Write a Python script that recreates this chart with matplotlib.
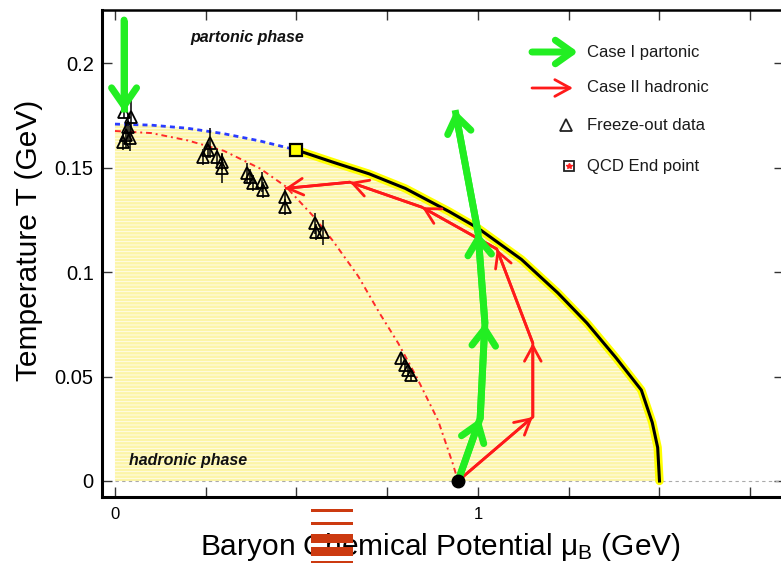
import matplotlib
matplotlib.use('Agg')
import matplotlib.pyplot as plt
from matplotlib.patches import Rectangle

plt.rcParams['font.family'] = ['Liberation Sans', 'DejaVu Sans']
plt.rcParams['mathtext.fontset'] = 'custom'
plt.rcParams['mathtext.rm'] = 'Liberation Sans'
plt.rcParams['mathtext.it'] = 'Liberation Sans:italic'
plt.rcParams['mathtext.bf'] = 'Liberation Sans:bold'
plt.rcParams['hatch.linewidth'] = 0.6

# ---------------- data (mu_B, T in GeV) ----------------
crossover_mu = [0.0, 0.1, 0.2, 0.3, 0.4, 0.5]
crossover_T = [0.1708, 0.1703, 0.1688, 0.1662, 0.1627, 0.1584]

first_order_mu = [0.5, 0.6, 0.7, 0.8, 0.92, 1.0, 1.12, 1.22, 1.30, 1.38, 1.45, 1.48, 1.495, 1.50]
first_order_T = [0.1584, 0.1526, 0.147, 0.140, 0.129, 0.121, 0.106, 0.090, 0.0756, 0.059, 0.0435, 0.028, 0.016, 0.0]

fo_mu = [0.0, 0.1, 0.2, 0.3, 0.4, 0.47, 0.55, 0.6, 0.67, 0.73, 0.78, 0.83, 0.89, 0.93, 0.945]
fo_T = [0.1675, 0.1665, 0.163, 0.158, 0.1495, 0.141, 0.126, 0.115, 0.098, 0.080, 0.066, 0.050, 0.029, 0.0086, 0.0]

data_mu = [0.025, 0.044, 0.036, 0.030, 0.022, 0.041,
           0.242, 0.256, 0.262, 0.281, 0.295, 0.295,
           0.364, 0.372, 0.380, 0.405, 0.408,
           0.468, 0.468,
           0.551, 0.573, 0.554,
           0.788, 0.799, 0.807, 0.815]
data_T = [0.1766, 0.1742, 0.1694, 0.1655, 0.1622, 0.1641,
          0.1550, 0.1584, 0.1617, 0.1550, 0.1526, 0.1498,
          0.1474, 0.1455, 0.1426, 0.1431, 0.1392,
          0.1359, 0.1311,
          0.1234, 0.1191, 0.1191,
          0.0589, 0.0555, 0.0531, 0.0507]
data_err = [0.003, 0.008, 0.006, 0.006, 0.004, 0.006,
            0.004, 0.004, 0.007, 0.004, 0.004, 0.007,
            0.005, 0.004, 0.004, 0.005, 0.004,
            0.004, 0.004,
            0.005, 0.006, 0.004,
            0.003, 0.003, 0.003, 0.003]

cep_mu, cep_T = 0.5, 0.1584
nm_mu, nm_T = 0.945, 0.0

case1_mu = [0.945, 1.006, 1.019, 1.0, 0.937]
case1_T = [0.0, 0.030, 0.0756, 0.119, 0.1775]
case1_top_mu = [0.025, 0.025]
case1_top_T = [0.2206, 0.1766]

case2_mu = [0.945, 1.151, 1.151, 1.052, 0.846, 0.647, 0.468]
case2_T = [0.0, 0.0306, 0.066, 0.111, 0.131, 0.143, 0.140]

xticks = [0.0, 0.25, 0.5, 0.75, 1.0, 1.25, 1.5, 1.75]
xticklabels = ['0', '', '', '', '1', '', '', '']
yticks = [0.0, 0.05, 0.1, 0.15, 0.2]
yticklabels = ['0', '0.05', '0.1', '0.15', '0.2']

legend_labels = ['Case I partonic', 'Case II hadronic', 'Freeze-out data', 'QCD End point']

# ---------------- figure ----------------
fig = plt.figure(figsize=(7.81, 5.63), dpi=100)
ax = fig.add_axes([102 / 781, 66 / 563, 682 / 781, 487 / 563])
ax.set_xlim(-0.0358, 1.843)
ax.set_ylim(-0.00766, 0.2254)

# filled hadronic region
bound_mu = crossover_mu + first_order_mu[1:]
bound_T = crossover_T + first_order_T[1:]
ax.fill_between(bound_mu, 0, bound_T, facecolor='#fcf5a8', edgecolor='#fffef0',
                hatch='-----', linewidth=0, zorder=1)

# T = 0 baseline
ax.axhline(0, xmin=(0 + 0.0358) / (1.843 + 0.0358), color='#aaaaaa', lw=0.8,
           linestyle=(0, (3, 3)), zorder=2)

# freeze-out curve
ax.plot(fo_mu, fo_T, color='#ff2a2a', lw=1.4, linestyle=(0, (3, 2, 1, 2)), zorder=3)
# crossover
ax.plot(crossover_mu, crossover_T, color='#2a3cff', lw=2.0, linestyle=(0, (1.8, 1.5)), zorder=3)
# first order line
ax.plot(first_order_mu, first_order_T, color='#ffff00', lw=6, solid_capstyle='round',
        solid_joinstyle='round', zorder=4)
ax.plot(first_order_mu, first_order_T, color='black', lw=2.2, solid_joinstyle='round', zorder=5)

# freeze-out data
ax.errorbar(data_mu, data_T, yerr=data_err, fmt='none', ecolor='black', elinewidth=1.1,
            capsize=0, zorder=6)
ax.plot(data_mu, data_T, linestyle='none', marker='^', ms=8, mfc='none', mec='black',
        mew=1.3, zorder=7)


def draw_path(mu, T, color, lw, hl, hw, z):
    ax.plot(mu, T, color=color, lw=lw, solid_joinstyle='round', solid_capstyle='butt', zorder=z)
    for i in range(len(mu) - 1):
        ax.annotate('', xy=(mu[i + 1], T[i + 1]), xytext=(mu[i], T[i]),
                    arrowprops=dict(arrowstyle=f'->,head_length={hl},head_width={hw}',
                                    color=color, lw=lw, shrinkA=0, shrinkB=0,
                                    mutation_scale=10, joinstyle='miter'),
                    zorder=z)


draw_path(case2_mu, case2_T, '#ff1a1a', 2.0, 1.1, 0.6, 8)
draw_path(case1_mu, case1_T, '#22ee22', 5.0, 1.2, 0.85, 9)
draw_path(case1_top_mu, case1_top_T, '#22ee22', 5.0, 1.3, 0.9, 9)

# QCD end point and nuclear matter point
ax.plot([cep_mu], [cep_T], marker='s', ms=8, mfc='#ffff00', mec='black', mew=1.6, zorder=10)
ax.plot([nm_mu], [nm_T], marker='o', ms=9, color='black', zorder=10, clip_on=False)

# phase labels
ax.text(0.364, 0.2124, 'partonic phase', fontsize=11.5, fontweight='bold', style='italic',
        ha='center', va='center', color='#111111')
ax.text(0.202, 0.0096, 'hadronic phase', fontsize=11.5, fontweight='bold', style='italic',
        ha='center', va='center', color='#111111')


# manual legend (axes fraction)
def fx(px):
    return (px - 102) / 682


def fy(py):
    return (497 - py) / 487


ax.annotate('', xy=(fx(578), fy(52)), xytext=(fx(532), fy(52)), xycoords='axes fraction',
            textcoords='axes fraction',
            arrowprops=dict(arrowstyle='->,head_length=1.2,head_width=0.85', color='#22ee22',
                            lw=5.0, shrinkA=0, shrinkB=0, mutation_scale=10))
ax.annotate('', xy=(fx(573), fy(88)), xytext=(fx(532), fy(88)), xycoords='axes fraction',
            textcoords='axes fraction',
            arrowprops=dict(arrowstyle='->,head_length=1.1,head_width=0.6', color='#ff1a1a',
                            lw=2.0, shrinkA=0, shrinkB=0, mutation_scale=10))
ax.plot([fx(566)], [fy(125)], transform=ax.transAxes, marker='^', ms=8, mfc='none',
        mec='#222222', mew=1.3, clip_on=False)
ax.plot([fx(569)], [fy(166)], transform=ax.transAxes, marker='s', ms=7, mfc='white',
        mec='#222222', mew=1.3, clip_on=False)
ax.plot([fx(569)], [fy(166)], transform=ax.transAxes, marker='*', ms=4, color='#ff2020',
        clip_on=False)
for lab, py in zip(legend_labels, [52, 88, 125, 166]):
    ax.text(fx(587), fy(py), lab, transform=ax.transAxes, fontsize=12, ha='left',
            va='center', color='#1a1a1a')

# axes styling
ax.set_xticks(xticks)
ax.set_xticklabels(xticklabels, fontsize=12)
ax.set_yticks(yticks)
ax.set_yticklabels(yticklabels, fontsize=14.5)
ax.tick_params(axis='both', direction='in', length=7.5, width=1.0, color='#333333',
               top=True, right=True)
ax.tick_params(axis='x', pad=7)
ax.tick_params(axis='y', pad=6)
for s in ['left', 'bottom']:
    ax.spines[s].set_linewidth(2.2)
ax.spines['top'].set_linewidth(1.8)
ax.spines['right'].set_linewidth(1.8)

ax.set_ylabel('Temperature T (GeV)', fontsize=21.5, va='center')
ax.yaxis.set_label_coords(-0.107, 0.526)
ax.set_xlabel(r'Baryon Chemical Potential $\mathrm{\mu_B}$ (GeV)', fontsize=21.5, va='baseline')
ax.xaxis.set_label_coords(0.496, -0.119)

# overlaid orange-red stripe mark
for top, bot in [(509, 512), (522, 525), (534, 543), (547, 556), (561, 563)]:
    fig.add_artist(Rectangle((311 / 781, (563 - bot) / 563), 42 / 781, (bot - top) / 563,
                             transform=fig.transFigure, facecolor='#cc3a10',
                             edgecolor='none', zorder=20))

fig.savefig('out.png', dpi=100)
